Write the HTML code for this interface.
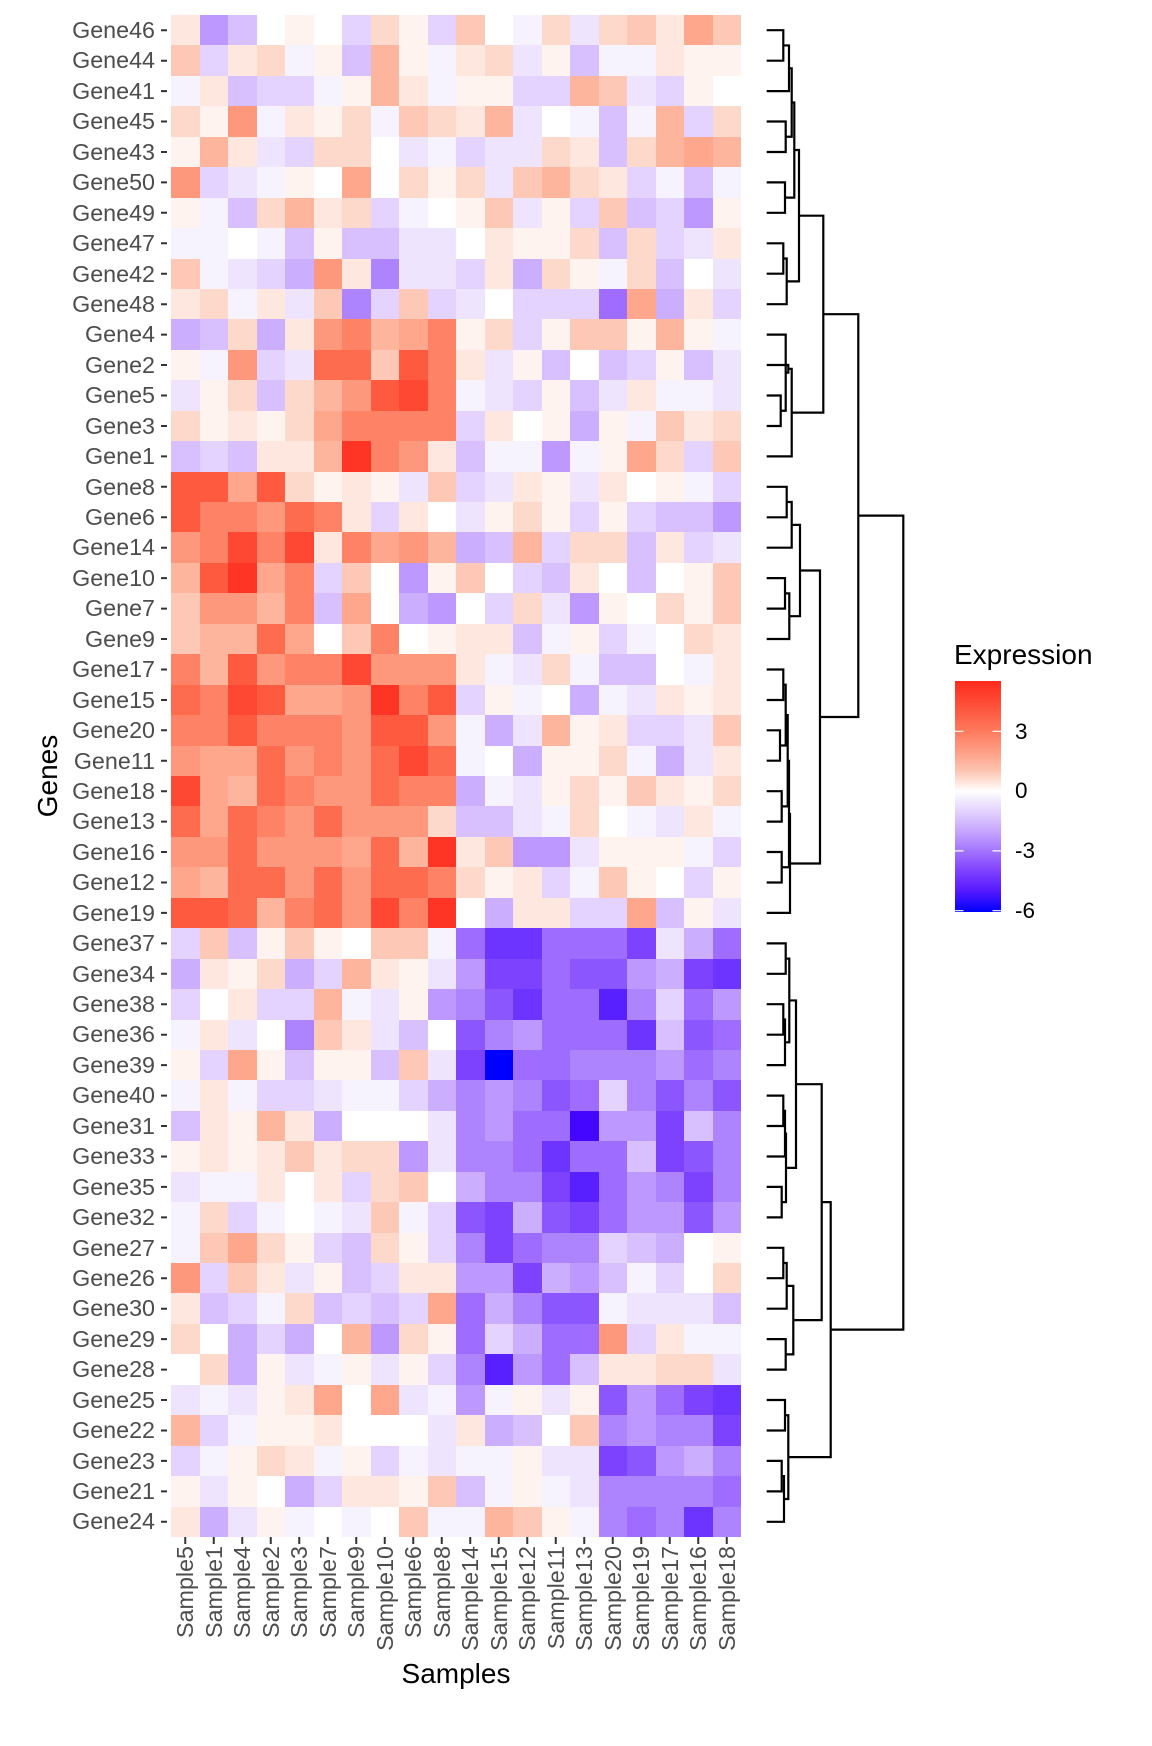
<!DOCTYPE html>
<html><head><meta charset="utf-8">
<style>
html,body{margin:0;padding:0;background:#fff;}
body{width:1152px;height:1728px;position:relative;overflow:hidden;font-family:"Liberation Sans",Arial,sans-serif;}
#hm{position:absolute;left:171px;top:15px;width:570px;height:1522px;display:grid;grid-template-columns:repeat(20,1fr);grid-template-rows:repeat(50,1fr);}
#hm>*{display:block}
p1{background:#FEF3EE}p2{background:#FEE7DF}p3{background:#FDD9CC}p4{background:#FEC8B6}p5{background:#FEB59E}p6{background:#FEA78D}p7{background:#FE987C}p8{background:#FE8266}p9{background:#FE6C50}q1{background:#FE5A40}q2{background:#FE4834}q3{background:#FE3424}
v1{background:#F6F2FE}v2{background:#EEE4FE}v3{background:#E3D3FE}v4{background:#D8C0FE}v5{background:#CBAEFE}v6{background:#BD98FE}v7{background:#AE84FE}v8{background:#9E6CFE}v9{background:#8C56FE}y1{background:#7C42FE}y2{background:#6C34FE}y3{background:#5820FE}y4{background:#4406FE}y5{background:#0000FF}
w{background:#FFFFFF}
#yl{position:absolute;left:0;top:15px;width:155px;}
#yl div{height:30.44px;line-height:30.44px;text-align:right;font-size:23.3px;color:#4D4D4D;white-space:nowrap}
.xl{position:absolute;top:1532px;width:200px;height:28px;line-height:28px;text-align:right;font-size:23.3px;color:#4D4D4D;transform-origin:100% 50%;transform:rotate(-90deg);white-space:nowrap}
.tt{position:absolute;font-size:28px;line-height:34px;color:#000;white-space:nowrap}
.ll{position:absolute;left:1015px;font-size:22.5px;line-height:26px;color:#000}
#bar{position:absolute;left:955px;top:681px;width:46px;height:231px;background:linear-gradient(to bottom,#FF2A1C 0%,#FE4A34 8.8%,#FE7A5E 21.8%,#FE9E84 30.4%,#FDC6B4 39.1%,#FEE2D8 43.4%,#FFFFFF 47.8%,#F0E8FE 52.1%,#E2D2FE 56.4%,#C6A5FE 65.1%,#A373FE 73.7%,#7E40FE 82.4%,#5418FE 91%,#0000FF 100%);}
svg{position:absolute;left:0;top:0}
</style></head><body>

<div id="hm">
<p2></p2><v6></v6><v4></v4><w></w><p1></p1><w></w><v3></v3><p3></p3><p1></p1><v3></v3><p4></p4><w></w><v1></v1><p3></p3><v2></v2><p3></p3><p4></p4><p2></p2><p6></p6><p4></p4>
<p4></p4><v3></v3><p2></p2><p3></p3><v1></v1><p1></p1><v4></v4><p5></p5><p1></p1><v1></v1><p2></p2><p3></p3><v2></v2><p1></p1><v4></v4><v1></v1><v1></v1><p2></p2><p1></p1><p1></p1>
<v1></v1><p2></p2><v4></v4><v3></v3><v3></v3><v1></v1><p1></p1><p5></p5><p2></p2><v1></v1><p1></p1><p1></p1><v3></v3><v3></v3><p5></p5><p4></p4><v2></v2><v3></v3><p1></p1><w></w>
<p3></p3><p1></p1><p7></p7><v1></v1><p2></p2><p1></p1><p3></p3><v1></v1><p4></p4><p3></p3><p2></p2><p5></p5><v2></v2><w></w><v1></v1><v4></v4><v1></v1><p5></p5><v3></v3><p3></p3>
<p1></p1><p5></p5><p2></p2><v2></v2><v3></v3><p3></p3><p3></p3><w></w><v2></v2><v1></v1><v3></v3><v2></v2><v2></v2><p3></p3><p2></p2><v4></v4><p3></p3><p5></p5><p6></p6><p5></p5>
<p7></p7><v3></v3><v2></v2><v1></v1><p1></p1><w></w><p6></p6><w></w><p3></p3><p1></p1><p3></p3><v2></v2><p4></p4><p5></p5><p3></p3><p2></p2><v3></v3><v1></v1><v4></v4><v1></v1>
<p1></p1><v1></v1><v4></v4><p3></p3><p5></p5><p2></p2><p3></p3><v3></v3><v1></v1><w></w><p1></p1><p4></p4><v2></v2><p1></p1><v3></v3><p4></p4><v4></v4><v3></v3><v6></v6><p1></p1>
<v1></v1><v1></v1><w></w><v1></v1><v4></v4><p1></p1><v4></v4><v4></v4><v2></v2><v2></v2><w></w><p2></p2><p1></p1><p1></p1><p3></p3><v4></v4><p3></p3><v3></v3><v2></v2><p2></p2>
<p4></p4><v1></v1><v2></v2><v3></v3><v5></v5><p7></p7><p2></p2><v7></v7><v2></v2><v2></v2><v3></v3><p2></p2><v5></v5><p3></p3><p1></p1><v1></v1><p3></p3><v4></v4><w></w><v2></v2>
<p2></p2><p3></p3><v1></v1><p2></p2><v2></v2><p4></p4><v7></v7><v3></v3><p4></p4><v3></v3><v2></v2><w></w><v3></v3><v3></v3><v3></v3><v8></v8><p6></p6><v5></v5><p2></p2><v3></v3>
<v5></v5><v4></v4><p3></p3><v5></v5><p2></p2><p7></p7><p8></p8><p5></p5><p6></p6><p8></p8><p1></p1><p3></p3><v3></v3><p1></p1><p4></p4><p4></p4><p1></p1><p5></p5><p1></p1><v1></v1>
<p1></p1><v1></v1><p7></p7><v3></v3><v2></v2><p9></p9><p9></p9><p4></p4><q1></q1><p8></p8><p2></p2><v2></v2><p1></p1><v4></v4><w></w><v4></v4><v3></v3><p1></p1><v4></v4><v2></v2>
<v2></v2><p1></p1><p3></p3><v4></v4><p3></p3><p5></p5><p7></p7><q1></q1><q2></q2><p8></p8><v1></v1><v2></v2><v3></v3><p1></p1><v4></v4><v2></v2><p2></p2><v1></v1><v1></v1><v2></v2>
<p3></p3><p1></p1><p2></p2><p1></p1><p3></p3><p6></p6><p8></p8><p8></p8><p8></p8><p8></p8><v3></v3><p2></p2><w></w><p1></p1><v5></v5><p1></p1><v1></v1><p4></p4><p2></p2><p3></p3>
<v4></v4><v3></v3><v4></v4><p2></p2><p2></p2><p5></p5><q3></q3><p8></p8><p7></p7><p2></p2><v4></v4><v1></v1><v1></v1><v6></v6><v1></v1><p1></p1><p6></p6><p3></p3><v3></v3><p4></p4>
<q1></q1><q1></q1><p6></p6><q1></q1><p3></p3><p1></p1><p2></p2><p1></p1><v2></v2><p4></p4><v3></v3><v2></v2><p2></p2><p1></p1><v2></v2><p2></p2><w></w><p1></p1><v1></v1><v3></v3>
<q1></q1><p8></p8><p8></p8><p7></p7><p9></p9><p8></p8><p2></p2><v3></v3><p2></p2><w></w><v2></v2><p1></p1><p3></p3><p1></p1><v3></v3><p1></p1><v3></v3><v4></v4><v4></v4><v6></v6>
<p7></p7><p8></p8><q2></q2><p8></p8><q2></q2><p2></p2><p8></p8><p6></p6><p7></p7><p5></p5><v5></v5><v4></v4><p5></p5><v3></v3><p3></p3><p3></p3><v4></v4><p2></p2><v3></v3><v2></v2>
<p5></p5><q1></q1><q3></q3><p6></p6><p8></p8><v3></v3><p4></p4><w></w><v6></v6><p1></p1><p4></p4><w></w><v3></v3><v4></v4><p2></p2><w></w><v4></v4><w></w><p1></p1><p4></p4>
<p4></p4><p7></p7><p7></p7><p5></p5><p8></p8><v4></v4><p6></p6><w></w><v5></v5><v6></v6><w></w><v3></v3><p3></p3><v2></v2><v6></v6><p1></p1><w></w><p3></p3><p1></p1><p4></p4>
<p4></p4><p5></p5><p5></p5><p9></p9><p6></p6><w></w><p4></p4><p8></p8><w></w><p1></p1><p2></p2><p2></p2><v4></v4><v1></v1><p1></p1><v3></v3><v1></v1><w></w><p3></p3><p2></p2>
<p8></p8><p5></p5><q1></q1><p7></p7><p8></p8><p8></p8><q2></q2><p7></p7><p7></p7><p7></p7><p2></p2><v1></v1><v2></v2><p3></p3><v1></v1><v4></v4><v4></v4><w></w><v1></v1><p2></p2>
<p9></p9><p8></p8><q2></q2><q1></q1><p6></p6><p6></p6><p7></p7><q3></q3><p8></p8><q1></q1><v3></v3><p1></p1><v1></v1><w></w><v5></v5><v1></v1><v2></v2><p2></p2><p1></p1><p2></p2>
<p8></p8><p8></p8><q1></q1><p8></p8><p8></p8><p8></p8><p7></p7><q1></q1><q1></q1><p7></p7><v1></v1><v5></v5><v2></v2><p5></p5><p1></p1><p2></p2><v3></v3><v3></v3><v2></v2><p4></p4>
<p7></p7><p6></p6><p6></p6><p9></p9><p7></p7><p8></p8><p7></p7><p9></p9><q2></q2><p9></p9><v1></v1><w></w><v5></v5><p1></p1><p1></p1><p3></p3><v1></v1><v5></v5><v2></v2><p2></p2>
<q2></q2><p6></p6><p5></p5><p9></p9><p8></p8><p7></p7><p7></p7><p9></p9><p8></p8><p8></p8><v5></v5><v1></v1><v2></v2><p1></p1><p3></p3><p1></p1><p4></p4><p2></p2><p1></p1><p3></p3>
<p9></p9><p6></p6><p9></p9><p8></p8><p7></p7><p9></p9><p7></p7><p7></p7><p7></p7><p3></p3><v4></v4><v4></v4><v2></v2><v1></v1><p3></p3><w></w><v1></v1><v2></v2><p2></p2><v1></v1>
<p7></p7><p7></p7><p9></p9><p7></p7><p7></p7><p7></p7><p6></p6><p9></p9><p5></p5><q3></q3><p2></p2><p4></p4><v6></v6><v6></v6><v2></v2><p1></p1><p1></p1><p1></p1><v1></v1><v3></v3>
<p6></p6><p5></p5><p9></p9><p9></p9><p7></p7><p9></p9><p7></p7><p9></p9><p9></p9><p8></p8><p3></p3><p1></p1><p2></p2><v3></v3><v1></v1><p4></p4><p1></p1><w></w><v3></v3><p1></p1>
<q1></q1><q1></q1><p9></p9><p5></p5><p8></p8><p9></p9><p7></p7><q2></q2><p8></p8><q3></q3><w></w><v5></v5><p2></p2><p2></p2><v3></v3><v3></v3><p6></p6><v4></v4><p1></p1><v2></v2>
<v3></v3><p4></p4><v4></v4><p1></p1><p4></p4><p1></p1><w></w><p4></p4><p4></p4><v1></v1><v8></v8><y2></y2><y2></y2><v8></v8><v8></v8><v8></v8><y1></y1><v2></v2><v5></v5><v8></v8>
<v5></v5><p2></p2><p1></p1><p3></p3><v5></v5><v3></v3><p5></p5><p2></p2><p1></p1><v2></v2><v6></v6><y1></y1><y1></y1><v8></v8><v9></v9><v9></v9><v6></v6><v5></v5><y1></y1><y2></y2>
<v3></v3><w></w><p2></p2><v3></v3><v3></v3><p5></p5><v1></v1><v2></v2><p1></p1><v6></v6><v7></v7><v9></v9><y2></y2><v8></v8><v8></v8><y3></y3><v7></v7><v3></v3><v8></v8><v6></v6>
<v1></v1><p2></p2><v2></v2><w></w><v7></v7><p4></p4><p2></p2><v2></v2><v4></v4><w></w><v9></v9><v7></v7><v6></v6><v8></v8><v8></v8><v8></v8><y2></y2><v4></v4><v9></v9><v8></v8>
<p1></p1><v3></v3><p6></p6><p1></p1><v4></v4><p1></p1><p1></p1><v4></v4><p4></p4><v2></v2><y1></y1><y5></y5><v8></v8><v8></v8><v7></v7><v7></v7><v7></v7><v6></v6><v8></v8><v7></v7>
<v1></v1><p2></p2><v1></v1><v3></v3><v3></v3><v2></v2><v1></v1><v1></v1><v3></v3><v5></v5><v7></v7><v6></v6><v7></v7><v9></v9><v8></v8><v3></v3><v7></v7><v9></v9><v7></v7><v9></v9>
<v4></v4><p2></p2><p1></p1><p5></p5><p2></p2><v5></v5><w></w><w></w><w></w><v2></v2><v7></v7><v6></v6><v8></v8><v8></v8><y4></y4><v6></v6><v6></v6><y1></y1><v4></v4><v7></v7>
<p1></p1><p2></p2><p1></p1><p2></p2><p4></p4><p2></p2><p3></p3><p3></p3><v6></v6><v2></v2><v7></v7><v7></v7><v8></v8><y2></y2><v8></v8><v8></v8><v4></v4><y1></y1><v9></v9><v7></v7>
<v2></v2><v1></v1><v1></v1><p2></p2><w></w><p2></p2><v3></v3><p3></p3><p4></p4><w></w><v5></v5><v7></v7><v7></v7><y1></y1><y3></y3><v8></v8><v6></v6><v7></v7><y1></y1><v7></v7>
<v1></v1><p3></p3><v3></v3><v1></v1><w></w><v1></v1><v2></v2><p4></p4><v1></v1><v3></v3><v9></v9><y1></y1><v5></v5><v9></v9><y1></y1><v8></v8><v6></v6><v6></v6><v9></v9><v6></v6>
<v1></v1><p4></p4><p6></p6><p3></p3><p1></p1><v3></v3><v4></v4><p3></p3><p1></p1><v3></v3><v7></v7><y1></y1><v8></v8><v7></v7><v7></v7><v3></v3><v4></v4><v5></v5><w></w><p1></p1>
<p7></p7><v3></v3><p4></p4><p2></p2><v2></v2><p1></p1><v4></v4><v3></v3><p2></p2><p2></p2><v6></v6><v6></v6><y1></y1><v5></v5><v6></v6><v4></v4><v1></v1><v3></v3><w></w><p3></p3>
<p2></p2><v4></v4><v3></v3><v1></v1><p3></p3><v4></v4><v3></v3><v4></v4><v3></v3><p6></p6><v8></v8><v5></v5><v7></v7><v9></v9><v9></v9><v1></v1><v2></v2><v2></v2><v2></v2><v4></v4>
<p3></p3><w></w><v5></v5><v3></v3><v5></v5><w></w><p5></p5><v6></v6><p3></p3><p1></p1><v8></v8><v3></v3><v5></v5><v8></v8><v8></v8><p7></p7><v3></v3><p2></p2><v1></v1><v1></v1>
<w></w><p3></p3><v5></v5><p1></p1><v2></v2><v1></v1><p1></p1><v2></v2><p1></p1><v3></v3><v7></v7><y3></y3><v6></v6><v8></v8><v4></v4><p2></p2><p2></p2><p3></p3><p3></p3><v2></v2>
<v2></v2><v1></v1><v2></v2><p1></p1><p2></p2><p6></p6><w></w><p6></p6><v2></v2><v1></v1><v6></v6><v1></v1><p1></p1><v2></v2><p1></p1><v9></v9><v6></v6><v8></v8><y1></y1><y2></y2>
<p5></p5><v3></v3><v1></v1><p1></p1><p1></p1><p2></p2><w></w><w></w><w></w><v2></v2><p2></p2><v5></v5><v4></v4><w></w><p4></p4><v7></v7><v6></v6><v7></v7><v7></v7><y1></y1>
<v3></v3><v1></v1><p1></p1><p3></p3><p2></p2><v1></v1><p1></p1><v3></v3><v1></v1><v2></v2><v1></v1><v1></v1><p1></p1><v2></v2><v2></v2><y1></y1><v9></v9><v6></v6><v5></v5><v7></v7>
<p1></p1><v2></v2><p1></p1><w></w><v5></v5><v3></v3><p2></p2><p2></p2><p1></p1><p4></p4><v4></v4><v1></v1><p1></p1><v1></v1><v2></v2><v7></v7><v7></v7><v7></v7><v7></v7><v8></v8>
<p2></p2><v5></v5><v2></v2><p1></p1><v1></v1><w></w><v1></v1><w></w><p4></p4><v1></v1><v1></v1><p5></p5><p4></p4><p1></p1><v1></v1><v7></v7><v8></v8><v7></v7><y2></y2><v7></v7>
</div>

<div id="yl">
<div>Gene46</div><div>Gene44</div><div>Gene41</div><div>Gene45</div><div>Gene43</div><div>Gene50</div><div>Gene49</div><div>Gene47</div><div>Gene42</div><div>Gene48</div>
<div>Gene4</div><div>Gene2</div><div>Gene5</div><div>Gene3</div><div>Gene1</div><div>Gene8</div><div>Gene6</div><div>Gene14</div><div>Gene10</div><div>Gene7</div>
<div>Gene9</div><div>Gene17</div><div>Gene15</div><div>Gene20</div><div>Gene11</div><div>Gene18</div><div>Gene13</div><div>Gene16</div><div>Gene12</div><div>Gene19</div>
<div>Gene37</div><div>Gene34</div><div>Gene38</div><div>Gene36</div><div>Gene39</div><div>Gene40</div><div>Gene31</div><div>Gene33</div><div>Gene35</div><div>Gene32</div>
<div>Gene27</div><div>Gene26</div><div>Gene30</div><div>Gene29</div><div>Gene28</div><div>Gene25</div><div>Gene22</div><div>Gene23</div><div>Gene21</div><div>Gene24</div>
</div>

<div class="xl" style="left:-14.75px">Sample5</div>
<div class="xl" style="left:13.75px">Sample1</div>
<div class="xl" style="left:42.25px">Sample4</div>
<div class="xl" style="left:70.75px">Sample2</div>
<div class="xl" style="left:99.25px">Sample3</div>
<div class="xl" style="left:127.75px">Sample7</div>
<div class="xl" style="left:156.25px">Sample9</div>
<div class="xl" style="left:184.75px">Sample10</div>
<div class="xl" style="left:213.25px">Sample6</div>
<div class="xl" style="left:241.75px">Sample8</div>
<div class="xl" style="left:270.25px">Sample14</div>
<div class="xl" style="left:298.75px">Sample15</div>
<div class="xl" style="left:327.25px">Sample12</div>
<div class="xl" style="left:355.75px">Sample11</div>
<div class="xl" style="left:384.25px">Sample13</div>
<div class="xl" style="left:412.75px">Sample20</div>
<div class="xl" style="left:441.25px">Sample19</div>
<div class="xl" style="left:469.75px">Sample17</div>
<div class="xl" style="left:498.25px">Sample16</div>
<div class="xl" style="left:526.75px">Sample18</div>

<div class="tt" style="left:356px;top:1657px;width:200px;text-align:center">Samples</div>
<div class="tt" style="left:-52px;top:759px;width:200px;text-align:center;transform:rotate(-90deg)">Genes</div>
<div class="tt" style="left:954px;top:638px">Expression</div>

<div id="bar"></div>
<div class="ll" style="top:718.5px">3</div>
<div class="ll" style="top:778.3px">0</div>
<div class="ll" style="top:838.1px">-3</div>
<div class="ll" style="top:897.9px">-6</div>

<svg width="1152" height="1728" viewBox="0 0 1152 1728" xmlns="http://www.w3.org/2000/svg">
<g stroke="#fff" stroke-width="1.2" fill="none">
<path d="M955 731.3H963.5M992.5 731.3H1001M955 791.1H963.5M992.5 791.1H1001M955 850.9H963.5M992.5 850.9H1001M955 910.7H963.5M992.5 910.7H1001"/>
</g>
<g stroke="#333" stroke-width="2" fill="none">
<path d="M161 30.2H167M161 60.7H167M161 91.1H167M161 121.5H167M161 152H167M161 182.4H167M161 212.8H167M161 243.3H167M161 273.7H167M161 304.2H167M161 334.6H167M161 365H167M161 395.5H167M161 426H167M161 456.4H167M161 486.8H167M161 517.3H167M161 547.7H167M161 578.1H167M161 608.6H167M161 639H167M161 669.5H167M161 700H167M161 730.3H167M161 760.7H167M161 791.2H167M161 821.6H167M161 852H167M161 882.5H167M161 912.9H167M161 943.4H167M161 973.8H167M161 1004.2H167M161 1034.7H167M161 1065.1H167M161 1095.6H167M161 1126H167M161 1156.5H167M161 1186.9H167M161 1217.4H167M161 1247.8H167M161 1278.2H167M161 1308.7H167M161 1339.1H167M161 1369.6H167M161 1400H167M161 1430.5H167M161 1460.9H167M161 1491.4H167M161 1521.8H167"/>
<path d="M185.25 1537V1544M213.75 1537V1544M242.25 1537V1544M270.75 1537V1544M299.25 1537V1544M327.75 1537V1544M356.25 1537V1544M384.75 1537V1544M413.25 1537V1544M441.75 1537V1544M470.25 1537V1544M498.75 1537V1544M527.25 1537V1544M555.75 1537V1544M584.25 1537V1544M612.75 1537V1544M641.25 1537V1544M669.75 1537V1544M698.25 1537V1544M726.75 1537V1544"/>
</g>
<g stroke="#000" stroke-width="2.2" fill="none">
<path d="M766.7 30.2H783.3V60.7H766.7M783.3 45.45H789V91.1H766.7M766.7 121.5H785.7V152H766.7M789 68.3H791.7V136.75H785.7M766.7 182.4H785V212.8H766.7M791.7 102.5H794.3V197.6H785M766.7 243.3H783.3V273.7H766.7M783.3 258.5H786.7V304.2H766.7M794.3 150H799V281.4H786.7M766.7 395.5H780.7V426H766.7M766.7 334.6H785.7V410.75H780.7M766.7 365H788.3V372.7H785.7M788.3 368.8H791.7V456.4H766.7M799 215.7H823.3V412.6H791.7M766.7 486.8H786.7V517.3H766.7M786.7 502H791.7V547.7H766.7M766.7 578.1H785V608.6H766.7M785 593.4H789.3V639H766.7M791.7 524.9H800V616.2H789.3M766.7 669.5H783.3V700H766.7M766.7 730.3H780V760.7H766.7M783.3 684.75H785.7V745.5H780M766.7 791.2H781.7V821.6H766.7M785.7 715.1H787.7V806.4H781.7M766.7 852H781.7V882.5H766.7M787.7 760.8H789V867.25H781.7M789 814H790V912.9H766.7M800 570.5H820V863.5H790M823.3 314.2H858.3V717H820"/>
<path d="M766.7 943.4H785.7V973.8H766.7M766.7 1004.2H783.3V1034.7H766.7M783.3 1019.45H785V1065.1H766.7M785.7 958.6H789.3V1042.3H785M766.7 1095.6H783.3V1126H766.7M783.3 1110.8H785V1156.5H766.7M766.7 1186.9H781.7V1217.4H766.7M785 1133.65H786V1202.15H781.7M789.3 1000.45H796V1167.9H786M766.7 1247.8H783.3V1278.2H766.7M783.3 1263H786.7V1308.7H766.7M766.7 1339.1H785.7V1369.6H766.7M786.7 1285.85H793.3V1354.35H785.7M796 1084.2H821.7V1320.1H793.3M766.7 1400H785V1430.5H766.7M766.7 1460.9H781.7V1491.4H766.7M781.7 1476.15H784V1521.8H766.7M785 1415.25H788.3V1499H784M821.7 1202.15H830.7V1457.1H788.3M858.3 515.6H903.3V1329.6H830.7"/>
</g>
</svg>
</body></html>
